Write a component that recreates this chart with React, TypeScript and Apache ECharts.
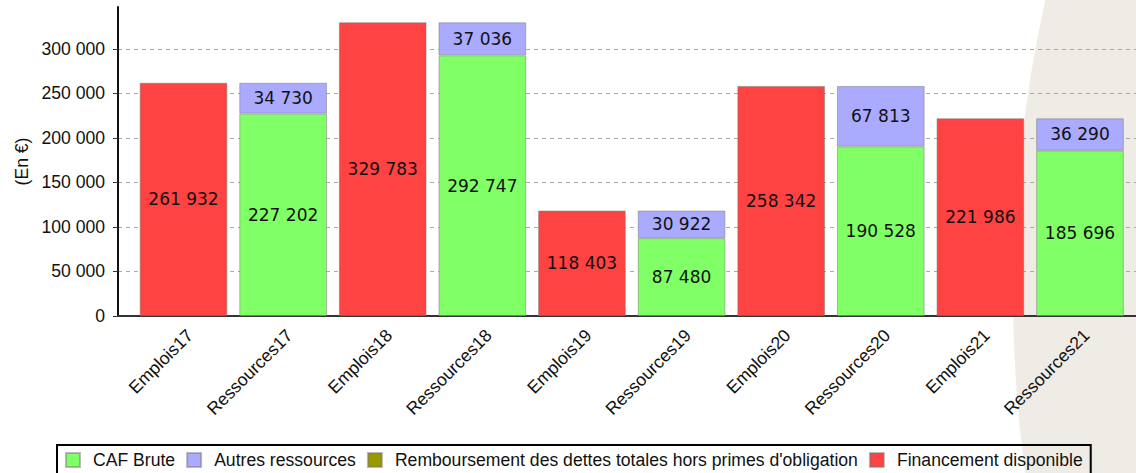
import React, { useEffect, useRef } from "react";
import * as echarts from "echarts";

const categories = [
  "Emplois17", "Ressources17", "Emplois18", "Ressources18", "Emplois19",
  "Ressources19", "Emplois20", "Ressources20", "Emplois21", "Ressources21",
];
const cafBrute = [null, 227202, null, 292747, null, 87480, null, 190528, null, 185696];
const autresRessources = [null, 34730, null, 37036, null, 30922, null, 67813, null, 36290];
const remboursement = [null, null, null, null, null, null, null, null, null, null];
const financementDisponible = [261932, null, 329783, null, 118403, null, 258342, null, 221986, null];

const seriesNames = [
  "CAF Brute",
  "Autres ressources",
  "Remboursement des dettes totales hors primes d'obligation",
  "Financement disponible",
];
const seriesColors = ["#80ff66", "#aaaaff", "#999900", "#ff4242"];

const Y_MAX = 347000;
const fmt = (v: number) => String(Math.round(v)).replace(/\B(?=(\d{3})+(?!\d))/g, " ");

export default function App() {
  const ref = useRef<HTMLDivElement>(null);
  useEffect(() => {
    if (!ref.current) return;
    const chart = echarts.init(ref.current, null, { renderer: "svg" });
    const datasets = [cafBrute, autresRessources, remboursement, financementDisponible];
    const series = datasets.map((d, i) => ({
      name: seriesNames[i],
      type: "bar",
      stack: "total",
      xAxisIndex: 1,
      yAxisIndex: 1,
      barWidth: "88%",
      data: d,
      itemStyle: { color: seriesColors[i], borderColor: "rgba(120,120,120,0.5)", borderWidth: 1 },
      label: {
        show: true,
        position: "inside",
        fontFamily: "DejaVu Sans",
        fontSize: 17,
        color: "#111",
        formatter: (p: any) => (p.value == null ? "" : fmt(p.value)),
      },
    }));
    chart.setOption({
      animation: false,
      backgroundColor: "transparent",
      graphic: [
        {
          type: "circle",
          z: -10,
          silent: true,
          shape: { cx: 2354, cy: 293, r: 1341 },
          style: { fill: "#efece6" },
        },
      ],
      grid: [
        { left: 118, right: 0, top: 7, bottom: 157 },
        { left: 133.7, right: 6.2, top: 7, bottom: 157 },
      ],
      xAxis: [
        {
          gridIndex: 0,
          type: "value",
          min: 0,
          max: 1,
          axisLine: { show: true, lineStyle: { color: "#333", width: 2 } },
          axisTick: { show: false },
          axisLabel: { show: false },
          splitLine: { show: false },
        },
        {
          gridIndex: 1,
          type: "category",
          data: categories,
          axisLine: { show: false },
          axisTick: { show: false },
          axisLabel: {
            interval: 0,
            rotate: 45,
            margin: 10,
            verticalAlign: "top",
            padding: [0, 0, 0, 0],
            fontFamily: "Liberation Sans",
            fontSize: 17.6,
            color: "#111",
          },
        },
      ],
      yAxis: [
        {
          gridIndex: 0,
          type: "value",
          min: 0,
          max: Y_MAX,
          interval: 50000,
          name: "(En €)",
          nameLocation: "middle",
          nameRotate: 90,
          nameGap: 83,
          nameTextStyle: { fontFamily: "Liberation Sans", fontSize: 17.6, color: "#111" },
          axisLine: { show: true, lineStyle: { color: "#111", width: 2 } },
          axisTick: { show: true, length: 5, lineStyle: { color: "#333" } },
          axisLabel: {
            margin: 13,
            showMaxLabel: false,
            fontFamily: "Liberation Sans",
            fontSize: 17.6,
            color: "#111",
            formatter: (v: number) => fmt(v),
          },
          splitLine: {
            show: true,
            showMaxLine: false,
            lineStyle: { color: "#aaa", width: 1, type: [4, 4] },
          },
        },
        {
          gridIndex: 1,
          type: "value",
          min: 0,
          max: Y_MAX,
          show: false,
          splitLine: { show: false },
        },
      ],
      legend: {
        left: 57,
        top: 445,
        data: seriesNames,
        icon: "rect",
        itemWidth: 14,
        itemHeight: 14,
        itemGap: 11,
        borderColor: "#000",
        borderWidth: 2,
        padding: [6, 8, 12, 8],
        selectedMode: false,
        textStyle: {
          fontFamily: "Liberation Sans",
          fontSize: 17.6,
          color: "#111",
          padding: [0, 0, 0, 8],
        },
      },
      series,
    });
    return () => chart.dispose();
  }, []);
  return (
    <div
      ref={ref}
      style={{ position: "fixed", left: 0, top: 0, width: 1136, height: 473, background: "#fff" }}
    />
  );
}
